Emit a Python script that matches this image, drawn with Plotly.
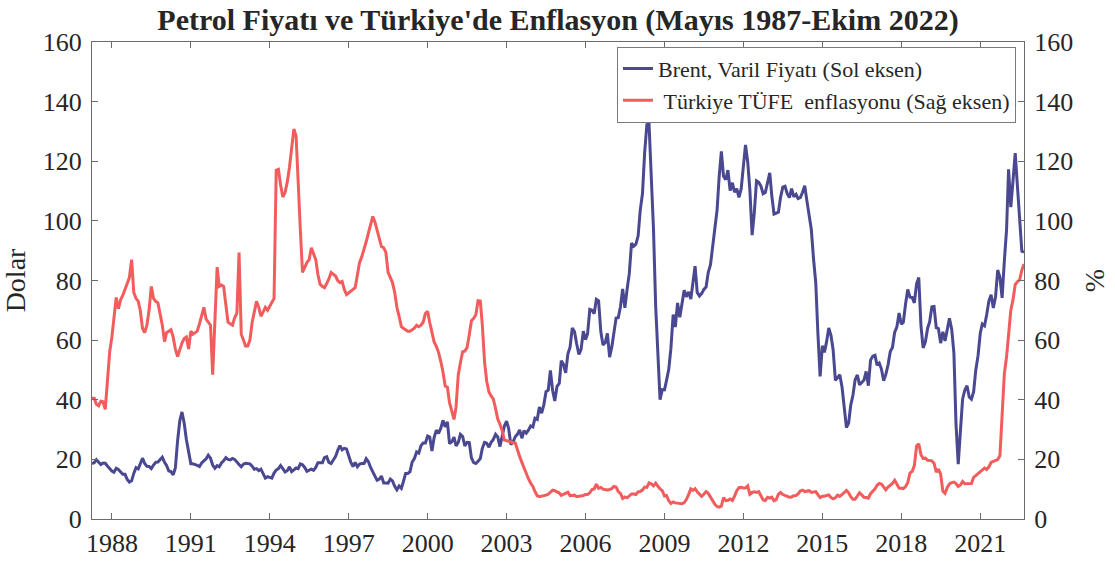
import pandas as pd
import plotly.graph_objects as go

# Monthly observations, May 1987 - Oct 2022
months = pd.date_range("1987-05-01", "2022-10-01", freq="MS")

# Brent crude oil, USD per barrel (left axis)
brent = [
    18.6, 18.9, 19.9, 19.0, 18.3, 18.8, 18.7, 17.8,                          # 1987 May-Dec
    16.8, 16.1, 15.7, 17.0, 16.6, 15.8, 15.0, 15.0, 13.3, 12.4, 12.8, 15.3,  # 1988
    17.2, 16.8, 18.6, 20.4, 18.6, 17.7, 17.6, 16.9, 18.1, 19.0, 19.1, 19.8,  # 1989
    20.7, 19.0, 18.0, 16.1, 15.9, 14.8, 17.1, 26.2, 33.0, 35.9, 32.1, 26.7,  # 1990
    22.7, 18.5, 18.5, 18.3, 18.0, 17.6, 18.8, 19.5, 20.2, 21.4, 20.4, 18.1,  # 1991
    17.0, 17.9, 17.5, 18.8, 19.5, 20.6, 20.0, 19.8, 20.3, 20.0, 19.0, 18.3,  # 1992
    17.5, 18.4, 18.7, 18.5, 18.5, 17.7, 16.7, 16.9, 16.2, 16.7, 15.1, 13.7,  # 1993
    14.2, 13.8, 13.7, 15.4, 16.4, 16.9, 17.9, 16.9, 15.8, 16.2, 17.5, 15.9,  # 1994
    16.5, 17.1, 16.9, 18.5, 18.2, 17.3, 16.0, 16.3, 16.7, 16.3, 17.3, 18.9,  # 1995
    18.9, 18.9, 20.6, 20.9, 19.0, 18.6, 19.8, 20.9, 23.0, 24.6, 23.2, 23.7,  # 1996
    23.5, 20.9, 19.1, 17.6, 19.0, 17.5, 18.4, 18.6, 18.6, 20.2, 19.2, 17.3,  # 1997
    15.5, 14.3, 13.0, 13.4, 14.4, 12.1, 12.1, 12.0, 13.4, 12.8, 11.0, 9.8,   # 1998
    11.1, 10.3, 12.5, 15.3, 15.3, 15.9, 19.1, 20.3, 22.5, 22.1, 24.6, 25.5,  # 1999
    25.5, 27.8, 27.5, 22.8, 27.3, 29.8, 28.7, 30.4, 33.1, 30.9, 32.6, 25.3,  # 2000
    25.9, 27.5, 24.5, 25.7, 28.4, 27.7, 24.5, 25.7, 25.6, 20.5, 18.9, 18.6,  # 2001
    19.4, 20.3, 23.7, 25.7, 25.4, 24.1, 25.7, 26.7, 28.4, 27.5, 24.3, 28.3,  # 2002
    31.2, 32.8, 30.4, 25.0, 25.8, 27.6, 28.4, 29.9, 27.1, 29.6, 28.8, 29.8,  # 2003
    31.2, 30.9, 33.8, 33.4, 37.6, 35.5, 38.2, 42.7, 43.2, 49.8, 43.1, 39.6,  # 2004
    44.5, 45.5, 53.1, 51.9, 49.0, 55.4, 57.6, 64.1, 62.8, 58.7, 55.2, 56.9,  # 2005
    63.0, 60.2, 62.1, 70.3, 70.0, 68.9, 73.7, 73.2, 62.8, 58.4, 59.1, 62.3,  # 2006
    54.3, 57.8, 62.1, 67.4, 67.5, 71.3, 77.2, 70.8, 77.1, 82.3, 92.5, 91.5,  # 2007
    92.2, 95.0, 103.6, 109.1, 122.8, 132.3, 132.7, 113.2, 97.2, 71.6, 52.5, 40.0,  # 2008
    43.4, 43.3, 46.5, 50.2, 57.3, 68.6, 64.4, 72.5, 67.7, 72.8, 76.7, 74.5,  # 2009
    76.2, 73.8, 78.8, 84.8, 76.0, 74.8, 75.6, 77.0, 77.8, 82.7, 85.3, 91.5,  # 2010
    96.5, 103.7, 114.6, 123.3, 115.0, 113.8, 117.0, 110.2, 112.8, 109.6, 110.8, 107.9,  # 2011
    110.7, 119.3, 125.5, 119.8, 110.3, 95.2, 102.6, 113.4, 112.9, 111.7, 109.1, 109.5,  # 2012
    113.0, 116.1, 108.5, 102.3, 102.6, 102.9, 107.9, 111.3, 111.6, 109.1, 107.8, 110.8,  # 2013
    108.1, 108.9, 107.5, 107.8, 109.5, 111.8, 106.8, 101.6, 97.1, 87.4, 79.4, 62.3,  # 2014
    47.8, 58.1, 55.9, 59.5, 64.1, 61.5, 56.6, 46.5, 47.6, 48.4, 44.3, 38.0,  # 2015
    30.7, 32.2, 38.2, 41.6, 46.7, 48.3, 45.0, 45.8, 46.6, 49.5, 44.7, 53.3,  # 2016
    54.6, 54.9, 51.6, 52.3, 50.3, 46.4, 48.5, 51.7, 56.2, 57.5, 62.7, 64.4,  # 2017
    69.1, 65.3, 66.0, 72.1, 77.0, 74.4, 74.3, 72.5, 78.9, 81.0, 64.8, 57.4,  # 2018
    59.4, 64.0, 66.1, 71.2, 71.3, 64.2, 63.9, 59.0, 62.8, 59.7, 63.2, 67.3,  # 2019
    63.7, 55.7, 32.0, 18.4, 29.4, 40.3, 43.2, 44.7, 40.9, 40.2, 42.7, 50.0,  # 2020
    54.8, 62.3, 65.4, 64.8, 68.5, 73.2, 75.2, 70.8, 74.5, 83.5, 81.1, 74.2,  # 2021
    86.5, 97.1, 117.3, 104.6, 113.3, 122.7, 111.9, 100.5, 89.8, 89.5,        # 2022 Jan-Oct
]

# Turkey CPI (TUFE) annual inflation, % (right axis)
tufe = [
    40.5, 40.5, 38.5, 38.0, 39.5, 39.3, 36.8, 47.0,                          # 1987 May-Dec
    56.0, 61.0, 67.0, 74.3, 70.5, 73.5, 75.0, 77.0, 78.5, 81.0, 87.0, 76.0,  # 1988
    74.0, 73.0, 70.0, 64.0, 62.5, 65.0, 70.0, 78.0, 74.0, 73.0, 72.5, 69.0,  # 1989
    65.0, 59.5, 62.5, 63.0, 63.5, 61.0, 57.0, 54.5, 57.0, 59.0, 60.5, 61.0,  # 1990
    57.0, 63.0, 62.0, 62.5, 63.0, 65.5, 68.0, 71.0, 67.0, 66.0, 65.0, 48.4,  # 1991
    67.0, 84.5, 78.0, 78.5, 78.0, 71.0, 66.0, 65.5, 65.0, 67.5, 69.0, 89.4,  # 1992
    62.0, 60.0, 58.0, 58.0, 60.0, 66.0, 70.0, 73.0, 71.0, 68.0, 69.5, 71.0,  # 1993
    70.0, 71.5, 72.6, 74.0, 117.0, 117.3, 112.0, 108.0, 109.5, 113.0, 118.0, 124.0,  # 1994
    130.8, 128.5, 112.0, 97.0, 82.7, 84.5, 86.0, 87.0, 91.0, 89.0, 87.0, 82.0,  # 1995
    78.7, 78.0, 77.6, 79.0, 80.5, 82.7, 82.0, 81.5, 80.0, 79.3, 79.7, 77.0,  # 1996
    75.3, 76.0, 76.5, 77.0, 77.6, 82.0, 86.0, 88.0, 90.4, 93.0, 96.0, 99.0,  # 1997
    101.5, 99.5, 97.0, 95.0, 91.4, 91.0, 89.4, 82.7, 81.0, 79.3, 76.0, 71.0,  # 1998
    68.0, 64.5, 64.0, 63.5, 63.0, 63.0, 63.5, 64.0, 65.0, 64.5, 65.0, 66.0,  # 1999
    68.9, 69.7, 65.9, 62.1, 59.4, 57.9, 55.9, 52.9, 49.3, 44.6, 44.2, 39.0,  # 2000
    35.9, 33.4, 37.5, 48.3, 52.4, 56.1, 56.3, 57.5, 61.8, 66.5, 67.3, 68.5,  # 2001
    73.2, 73.1, 65.1, 52.7, 46.2, 42.6, 41.3, 40.2, 37.0, 33.5, 31.8, 29.7,  # 2002
    26.5, 26.2, 26.0, 25.8, 25.6, 25.5, 23.0, 21.0, 19.0, 17.0, 15.4, 13.5,  # 2003
    12.0, 10.9, 9.2, 7.8, 7.5, 7.6, 7.8, 8.0, 8.3, 9.0, 9.7, 9.5,            # 2004
    9.2, 8.7, 7.9, 8.2, 8.7, 9.0, 7.8, 7.9, 8.0, 7.5, 7.6, 7.7,              # 2005
    7.9, 8.2, 8.2, 8.8, 9.9, 10.1, 11.7, 10.3, 10.6, 10.0, 9.9, 9.7,         # 2006
    9.9, 10.2, 10.9, 10.7, 9.2, 8.6, 6.9, 7.4, 7.1, 7.7, 8.4, 8.4,           # 2007
    8.2, 9.1, 9.2, 9.7, 10.7, 10.6, 12.1, 11.8, 11.1, 12.0, 10.8, 10.1,      # 2008
    9.5, 7.7, 7.9, 6.1, 5.2, 5.7, 5.4, 5.3, 5.3, 5.1, 5.5, 6.5,              # 2009
    8.2, 10.1, 9.6, 10.2, 9.1, 8.4, 7.6, 8.3, 9.2, 8.6, 7.3, 6.4,            # 2010
    4.9, 4.2, 4.0, 4.3, 7.2, 6.2, 6.3, 6.7, 6.2, 7.7, 9.5, 10.5,             # 2011
    10.6, 10.4, 10.4, 11.1, 8.3, 8.9, 9.1, 8.9, 9.2, 7.8, 6.4, 6.2,          # 2012
    7.3, 7.0, 7.3, 6.1, 6.5, 8.3, 8.9, 8.2, 7.9, 7.7, 7.3, 7.4,              # 2013
    7.8, 7.9, 8.4, 9.4, 9.7, 9.2, 9.3, 9.5, 8.9, 9.0, 9.2, 8.2,              # 2014
    7.2, 7.6, 7.6, 7.9, 8.1, 7.2, 6.8, 7.1, 8.0, 7.6, 8.1, 8.8,              # 2015
    9.6, 8.8, 7.5, 6.6, 6.6, 7.6, 8.8, 8.1, 7.3, 7.2, 7.0, 8.5,              # 2016
    9.2, 10.1, 11.3, 11.9, 11.7, 10.9, 9.8, 10.7, 11.2, 11.9, 13.0, 11.9,    # 2017
    10.4, 10.3, 10.2, 10.9, 12.2, 15.4, 15.9, 17.9, 24.5, 25.2, 21.6, 20.3,  # 2018
    20.4, 19.7, 19.7, 19.5, 18.7, 15.7, 16.7, 15.0, 9.3, 8.6, 10.6, 11.8,    # 2019
    12.2, 12.4, 11.9, 10.9, 11.4, 12.6, 11.8, 11.8, 11.8, 11.9, 14.0, 14.6,  # 2020
    15.0, 15.6, 16.2, 17.1, 16.6, 17.5, 19.0, 19.3, 19.6, 19.9, 21.3, 36.1,  # 2021
    48.7, 54.4, 61.1, 70.0, 73.5, 78.6, 79.6, 80.2, 83.5, 85.5,              # 2022 Jan-Oct
]

assert len(brent) == len(months) and len(tufe) == len(months)

tick_years = list(range(1988, 2022, 3))
tick_dates = [f"{y}-02-01" for y in tick_years]
tick_text = [str(y) for y in tick_years]
y_ticks = list(range(0, 161, 20))

BLUE = "#4a4891"
RED = "#f25c5c"
AXIS = "#6b6b6b"
TEXT = "#262626"
FONT = "Liberation Serif"

fig = go.Figure()
fig.add_trace(go.Scatter(
    x=months, y=brent, mode="lines", yaxis="y",
    name="Brent, Varil Fiyatı (Sol eksen)",
    line=dict(color=BLUE, width=3),
))
fig.add_trace(go.Scatter(
    x=months, y=tufe, mode="lines", yaxis="y2",
    name="\u00a0Türkiye TÜFE\u00a0 enflasyonu (Sağ eksen)",
    line=dict(color=RED, width=3),
))

axis_common = dict(
    showline=True, linecolor=AXIS, linewidth=1,
    ticks="inside", ticklen=6, tickcolor=AXIS, tickwidth=1,
    showgrid=False, zeroline=False, automargin=False,
    tickfont=dict(family=FONT, size=26, color=TEXT),
)

fig.update_layout(
    template="none",
    width=1115, height=561,
    margin=dict(l=92, r=91, t=42, b=42, autoexpand=False),
    paper_bgcolor="white", plot_bgcolor="white",
    font=dict(family=FONT, color=TEXT),
    title=dict(
        text="<b>Petrol Fiyatı ve Türkiye'de Enflasyon (Mayıs 1987-Ekim 2022)</b>",
        x=558 / 1115, xanchor="center", y=0.966, yanchor="middle",
        font=dict(family=FONT, size=30, color=TEXT),
    ),
    xaxis=dict(
        type="date", range=[months[0], months[-1]],
        tickvals=tick_dates, ticktext=tick_text,
        mirror="ticks", ticklabelstandoff=1, **axis_common,
    ),
    yaxis=dict(
        range=[0, 160], tickvals=y_ticks, ticklabelstandoff=4,
        title=dict(text="Dolar", font=dict(family=FONT, size=28, color=TEXT), standoff=10),
        **axis_common,
    ),
    yaxis2=dict(
        range=[0, 160], tickvals=y_ticks, overlaying="y", side="right", ticklabelstandoff=4,
        title=dict(text="%", font=dict(family=FONT, size=28, color=TEXT), standoff=12),
        **axis_common,
    ),
    legend=dict(
        x=0.9914, y=0.99, xanchor="right", yanchor="top",
        bgcolor="white", bordercolor="#7a7a7a", borderwidth=1,
        font=dict(family=FONT, size=22, color=TEXT),
        tracegroupgap=0, itemwidth=30,
    ),
    showlegend=True,
)

# Remove the default page margin so the figure sits at the window's top-left corner
fig.write_html(
    "out.html",
    config={"displayModeBar": False},
    post_script="document.body.style.margin='0';",
)
